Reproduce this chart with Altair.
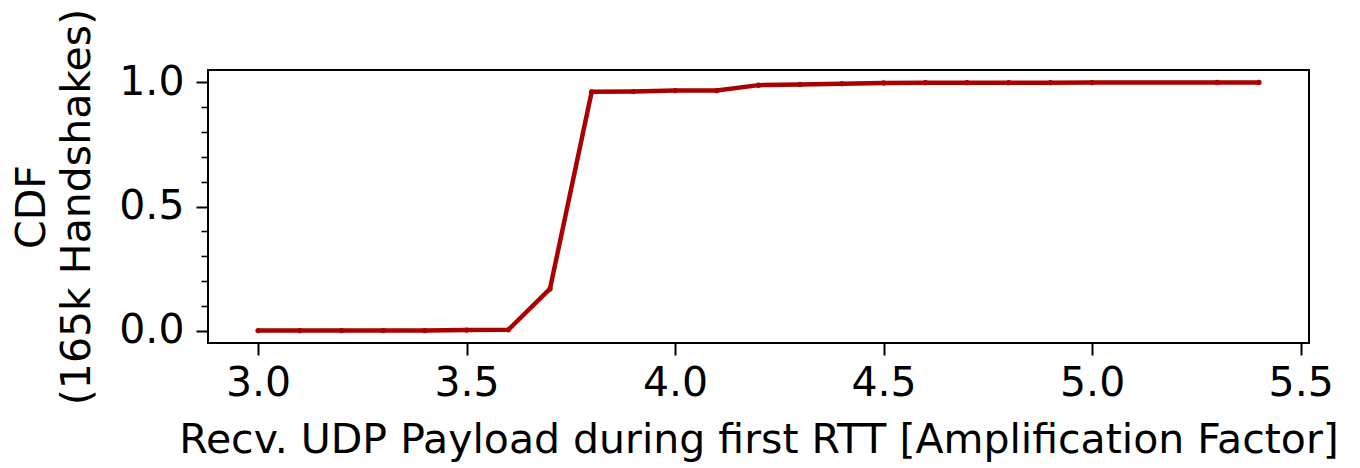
import altair as alt
import pandas as pd

x_vals = [3.0, 3.1, 3.2, 3.3, 3.4, 3.5, 3.6, 3.7, 3.8, 3.9, 4.0, 4.1, 4.2,
          4.3, 4.4, 4.5, 4.6, 4.7, 4.8, 4.9, 5.0, 5.3, 5.4]
cdf_vals = [0.0, 0.0, 0.0, 0.0, 0.0, 0.002, 0.003, 0.168, 0.962, 0.963, 0.967,
            0.967, 0.989, 0.992, 0.995, 0.998, 0.999, 0.999, 0.999, 0.999,
            0.9995, 1.0, 1.0]
x_ticks = [3.0, 3.5, 4.0, 4.5, 5.0, 5.5]
y_ticks = [0.0, 0.1, 0.2, 0.3, 0.4, 0.5, 0.6, 0.7, 0.8, 0.9, 1.0]

df = pd.DataFrame({"x": x_vals, "cdf": cdf_vals})

FONT = "DejaVu Sans"
RED = "#aa0000"
FS = 41

xscale = alt.Scale(domain=[2.88, 5.52], nice=False, zero=False)
yscale = alt.Scale(domain=[-0.05, 1.05], nice=False, zero=False)

is_major = ("abs(datum.value) < 0.001 || abs(datum.value - 0.5) < 0.001 "
            "|| abs(datum.value - 1) < 0.001")

base = alt.Chart(df)

line = base.mark_line(color=RED, strokeWidth=4.5).encode(
    x=alt.X("x:Q", scale=xscale,
            axis=alt.Axis(values=x_ticks, tickCount=30, format=".1f",
                          title="Recv. UDP Payload during first RTT [Amplification Factor]",
                          grid=False, domain=False, tickColor="black", tickWidth=2, tickSize=12,
                          labelFont=FONT, labelFontSize=FS, labelColor="black", labelPadding=8,
                          titleFont=FONT, titleFontSize=FS, titleFontWeight="normal", titleColor="black",
                          titlePadding=17, labelFlush=False, labelOverlap=False)),
    y=alt.Y("cdf:Q", scale=yscale,
            axis=alt.Axis(values=y_ticks, tickCount=30,
                          labelExpr=f"({is_major}) ? format(datum.value, '.1f') : ''",
                          tickSize={"condition": {"test": is_major, "value": 12}, "value": 7},
                          tickWidth={"condition": {"test": is_major, "value": 2}, "value": 1.6},
                          title=["CDF", "(165k Handshakes)"],
                          grid=False, domain=False, tickColor="black",
                          labelFont=FONT, labelFontSize=FS, labelColor="black", labelPadding=12,
                          titleFont=FONT, titleFontSize=FS, titleFontWeight="normal", titleColor="black",
                          titlePadding=20, titleLineHeight=45, labelFlush=False, labelOverlap=False)),
)

points = base.mark_circle(color=RED, size=28, opacity=1).encode(
    x=alt.X("x:Q", scale=xscale),
    y=alt.Y("cdf:Q", scale=yscale),
)

chart = alt.layer(line, points).properties(
    width=1101, height=273,
    background="white",
    autosize=alt.AutoSizeParams(type="none"),
    padding={"left": 200, "top": 62, "right": 40, "bottom": 125},
).configure_view(stroke="black", strokeWidth=2)

chart.save("out.html", embed_options={"renderer": "svg", "actions": False})
